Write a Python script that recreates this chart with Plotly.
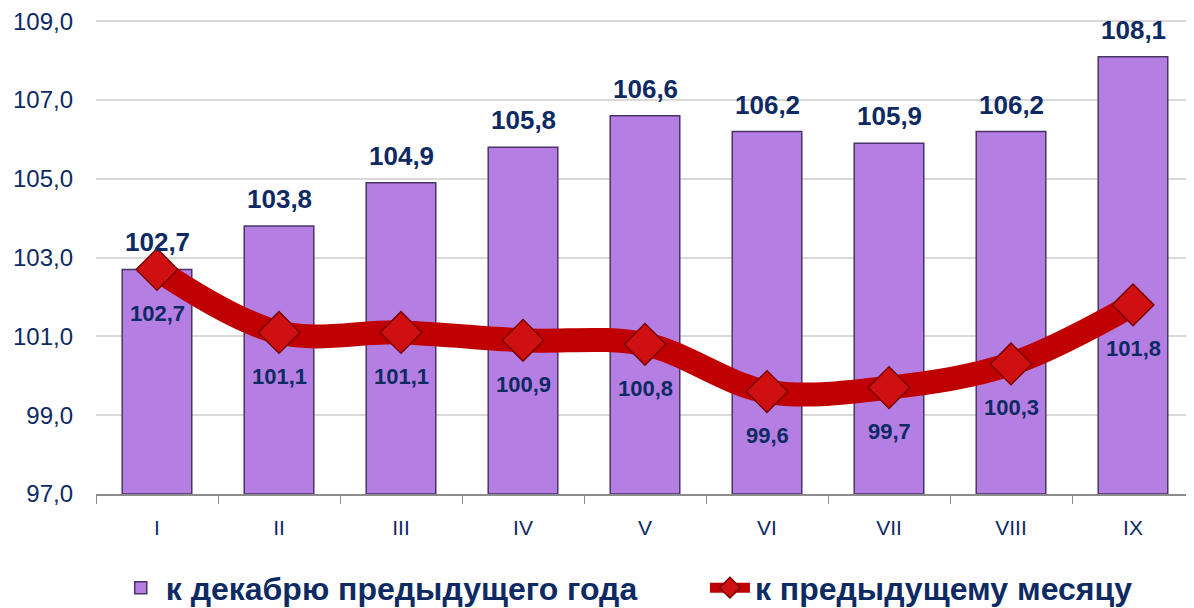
import plotly.graph_objects as go

categories = ["I", "II", "III", "IV", "V", "VI", "VII", "VIII", "IX"]
to_december = [102.7, 103.8, 104.9, 105.8, 106.6, 106.2, 105.9, 106.2, 108.1]
to_prev_month = [102.7, 101.1, 101.1, 100.9, 100.8, 99.6, 99.7, 100.3, 101.8]
y_ticks = [97, 99, 101, 103, 105, 107, 109]

navy = "#0E2A63"
font_fam = "Liberation Sans, Arial"


def fmt(v):
    return f"{v:.1f}".replace(".", ",")


fig = go.Figure()
fig.add_trace(go.Bar(
    x=categories, y=[v - 97 for v in to_december], base=97,
    name="к декабрю предыдущего года",
    marker=dict(color="#B57EE3", line=dict(color="#4A3366", width=1.5)),
    hoverinfo="skip", legend="legend",
))
fig.add_trace(go.Scatter(
    x=categories, y=to_prev_month, mode="lines+markers",
    name="к предыдущему месяцу",
    line=dict(color="#C00000", width=24, shape="spline", smoothing=1.0),
    marker=dict(symbol="diamond", size=32, color="#D01010",
                line=dict(color="#7A0000", width=1.5)),
    cliponaxis=False, legend="legend2",
))
for c, v in zip(categories, to_december):
    fig.add_annotation(x=c, y=v, text=fmt(v), showarrow=False, yanchor="middle",
                       yshift=27, font=dict(family=font_fam, size=26,
                                            color=navy, weight="bold"))
for c, v in zip(categories, to_prev_month):
    fig.add_annotation(x=c, y=v, text=fmt(v), showarrow=False,
                       yshift=-44, font=dict(family=font_fam, size=22,
                                             color=navy, weight="bold"))

legend_font = dict(family=font_fam, size=32, color=navy, weight="bold")
fig.update_layout(
    width=1186, height=600,
    margin=dict(l=88, r=0, t=12, b=114, autoexpand=False),
    plot_bgcolor="white", paper_bgcolor="white",
    bargap=0.43,
    showlegend=True,
    legend=dict(orientation="h", x=0.018, xanchor="left", y=-0.198, yanchor="middle",
                font=legend_font, itemwidth=40, bgcolor="rgba(0,0,0,0)"),
    legend2=dict(orientation="h", x=0.5546, xanchor="left", y=-0.198, yanchor="middle",
                 font=legend_font, itemwidth=40, bgcolor="rgba(0,0,0,0)"),
    separators=", ",
)
fig.update_yaxes(range=[97, 109.03], tickvals=y_ticks, tickformat=".1f",
                 showgrid=True, gridcolor="#D9D9D9", gridwidth=1.5,
                 tickfont=dict(family=font_fam, size=24, color=navy),
                 ticklabeloverflow="allow",
                 zeroline=False, ticks="", ticklabelstandoff=22)
fig.update_xaxes(range=[-0.5, 8.5], showline=True, linecolor="#8C8C8C", linewidth=1.5,
                 ticks="outside", tickson="boundaries", ticklen=8, tickcolor="#8C8C8C",
                 tickfont=dict(family=font_fam, size=21, color=navy),
                 ticklabelstandoff=14)

fig.write_html("out.html")
